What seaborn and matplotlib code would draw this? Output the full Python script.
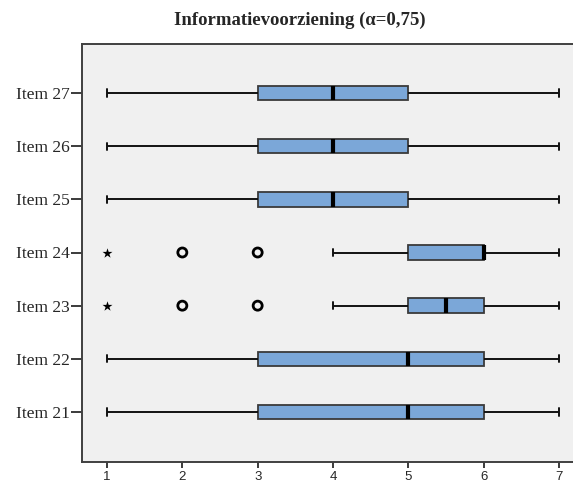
import numpy as np
import pandas as pd
import matplotlib
matplotlib.use("Agg")
import matplotlib.pyplot as plt
import seaborn as sns

# Five-number summaries per item (Likert 1-7)
items = ["Item 27", "Item 26", "Item 25", "Item 24", "Item 23", "Item 22", "Item 21"]
whisker_low = [1, 1, 1, 4, 4, 1, 1]
q1 = [3, 3, 3, 5, 5, 3, 3]
median = [4, 4, 4, 6, 5.5, 5, 5]
q3 = [5, 5, 5, 6, 6, 6, 6]
whisker_high = [7, 7, 7, 7, 7, 7, 7]

# Outliers (circles) and extreme values (stars)
outlier_items = ["Item 24", "Item 24", "Item 23", "Item 23"]
outlier_values = [2, 3, 2, 3]
extreme_items = ["Item 24", "Item 23"]
extreme_values = [1, 1]

title = "Informatievoorziening (\u03b1=0,75)"
x_ticks = [1, 2, 3, 4, 5, 6, 7]

box_color = "#7BA7D8"
edge_color = "#3A3A3A"

# Each item's summary as a five-point sample whose quartiles equal the summary
summary = pd.DataFrame({
    "item": items,
    "low": whisker_low,
    "q1": q1,
    "median": median,
    "q3": q3,
    "high": whisker_high,
})
long = summary.melt(id_vars="item", value_name="score")

sns.set_style("white")

W, H = 573, 487
fig = plt.figure(figsize=(W / 100, H / 100), dpi=100)
left_px, right_px, top_px, bottom_px = 82, 580, 44, 462
ax = fig.add_axes([left_px / W, 1 - bottom_px / H,
                   (right_px - left_px) / W, (bottom_px - top_px) / H])
ax.set_facecolor("#F0F0F0")

sns.boxplot(
    data=long, x="score", y="item", order=items, orient="h",
    width=0.27, whis=(0, 100), showfliers=False,
    color=box_color, saturation=1, linecolor=edge_color, linewidth=1.3,
    medianprops=dict(color="black", linewidth=3),
    whiskerprops=dict(color="#111111", linewidth=1.4),
    capprops=dict(color="#111111", linewidth=1.4),
    ax=ax,
)

sns.stripplot(
    x=outlier_values, y=outlier_items, order=items, orient="h",
    jitter=False, marker="o", size=6.5, linewidth=2,
    facecolor="none", edgecolor="black", color="black", ax=ax,
)
sns.stripplot(
    x=extreme_values, y=extreme_items, order=items, orient="h",
    jitter=False, marker="*", size=7.5, linewidth=0,
    color="black", ax=ax,
)

# Scale: 1 at px 107, 7 at px 559
px_per_unit = (559 - 107) / 6
ax.set_xlim(1 - (107 - left_px) / px_per_unit, 7 + (right_px - 559) / px_per_unit)
row_px = (412 - 93) / 6
ax.set_ylim(6 + (bottom_px - 412) / row_px, -(93 - top_px) / row_px)

ax.set_xticks(x_ticks)
ax.set_xticklabels([str(t) for t in x_ticks], fontfamily="Liberation Sans", fontsize=9.5)
ax.set_yticks(range(len(items)))
ax.set_yticklabels(items, fontfamily="Liberation Serif", fontsize=12.5)
ax.set_xlabel("")
ax.set_ylabel("")

ax.tick_params(axis="y", direction="out", length=8, width=1.4, color=edge_color, pad=1, left=True)
ax.tick_params(axis="x", direction="out", length=4.5, width=1.4, color=edge_color, pad=2, bottom=True)

for s in ax.spines.values():
    s.set_color("#404040")
    s.set_linewidth(1.4)

fig.text(300 / W, 1 - 20 / H, title, ha="center", va="center",
         fontfamily="Liberation Serif", fontweight="bold", fontsize=13.5)

fig.savefig("out.png", dpi=100, facecolor="white")
